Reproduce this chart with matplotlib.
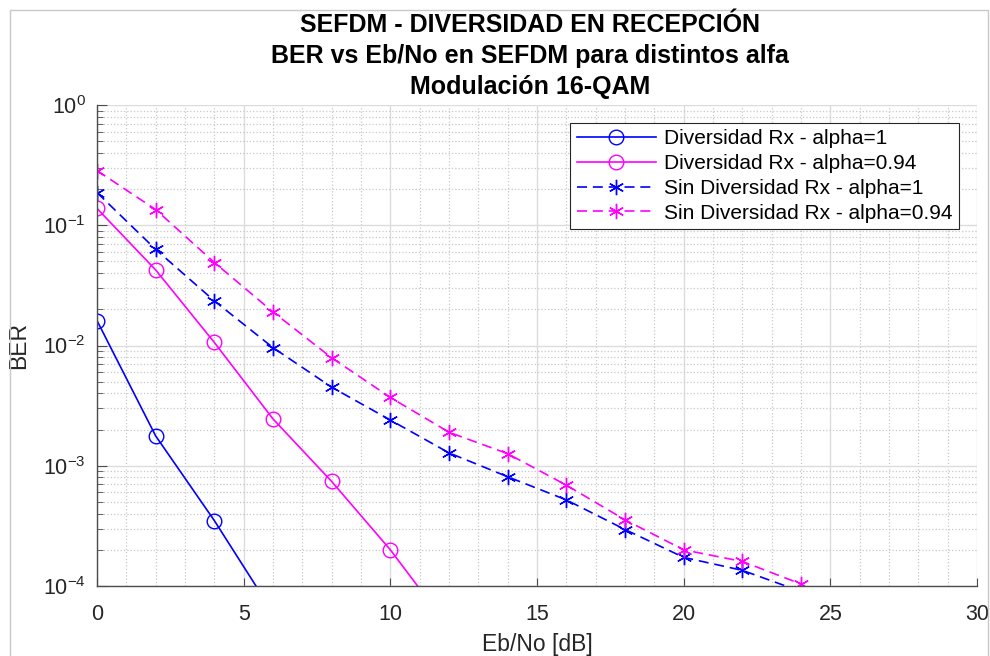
import numpy as np
import matplotlib
matplotlib.use('Agg')
import matplotlib.pyplot as plt
from matplotlib.patches import Rectangle
from matplotlib.ticker import MultipleLocator, LogLocator

plt.rcParams['font.family'] = ['Liberation Sans', 'DejaVu Sans']
plt.rcParams['mathtext.fontset'] = 'custom'
plt.rcParams['mathtext.rm'] = 'Liberation Sans'
plt.rcParams['mathtext.default'] = 'regular'

# Eb/No en dB
ebno_div = [0, 2, 4, 6]
ebno_div94 = [0, 2, 4, 6, 8, 10, 12]
ebno_sin = [0, 2, 4, 6, 8, 10, 12, 14, 16, 18, 20, 22, 24]

# BER
ber_div_1 = [0.0161, 0.00177, 3.5e-4, 6.0e-5]
ber_div_094 = [0.138, 0.0425, 0.0106, 0.00245, 7.4e-4, 2.0e-4, 4.5e-5]
ber_sin_1 = [0.187, 0.063, 0.0235, 0.0096, 0.0045, 0.0024, 0.00128,
             8.1e-4, 5.2e-4, 2.95e-4, 1.73e-4, 1.35e-4, 9.0e-5]
ber_sin_094 = [0.285, 0.135, 0.049, 0.019, 0.0079, 0.0037, 0.0019,
               0.00126, 6.9e-4, 3.55e-4, 2.0e-4, 1.6e-4, 1.04e-4]

labels = ['Diversidad Rx - alpha=1', 'Diversidad Rx - alpha=0.94',
          'Sin Diversidad Rx - alpha=1', 'Sin Diversidad Rx - alpha=0.94']

title_lines = ['SEFDM - DIVERSIDAD EN RECEPCIÓN',
               'BER vs Eb/No en SEFDM para distintos alfa',
               'Modulación 16-QAM']


W, H = 990, 656
fig = plt.figure(figsize=(W / 100, H / 100), dpi=100)
ax = fig.add_axes([97 / W, 70 / H, 880 / W, 481 / H])

# marco gris de la figura
fig.patches.append(Rectangle((10 / W, -0.01), 978 / W, 646 / H + 0.01,
                             transform=fig.transFigure, fill=False,
                             edgecolor='#c8c8c8', linewidth=1.0))

blue = '#0000ff'
mag = '#ff00ff'
star = (6, 2, 0)
lw = 1.2

ax.semilogy(ebno_div, ber_div_1, '-', color=blue, marker='o',
            markersize=10.5, markerfacecolor='none', linewidth=lw,
            label=labels[0])
ax.semilogy(ebno_div94, ber_div_094, '-', color=mag, marker='o',
            markersize=10.5, markerfacecolor='none', linewidth=lw,
            label=labels[1])
ax.semilogy(ebno_sin, ber_sin_1, '--', color=blue, marker=star,
            markersize=11, linewidth=lw, dashes=(6, 3.5), label=labels[2])
ax.semilogy(ebno_sin, ber_sin_094, '--', color=mag, marker=star,
            markersize=11, linewidth=lw, dashes=(6, 3.5), label=labels[3])

ax.set_xlim(0, 30)
ax.set_ylim(1e-4, 1)
ax.xaxis.set_major_locator(MultipleLocator(5))
ax.xaxis.set_minor_locator(MultipleLocator(1))
ax.yaxis.set_major_locator(LogLocator(base=10, numticks=10))
ax.yaxis.set_minor_locator(LogLocator(base=10, subs=np.arange(2, 10),
                                      numticks=20))

ax.grid(True, which='major', color='#dcdcdc', linestyle='-', linewidth=1.0)
ax.grid(True, which='minor', color='#c8c8c8', linestyle=':', linewidth=0.9)
ax.set_axisbelow(True)

for s in ['top', 'right']:
    ax.spines[s].set_visible(False)
for s in ['left', 'bottom']:
    ax.spines[s].set_color('#4d4d4d')
    ax.spines[s].set_linewidth(1.0)

ax.tick_params(which='both', direction='in', colors='#4d4d4d',
               labelcolor='#262626', labelsize=15.5)
ax.tick_params(axis='x', which='major', length=6, pad=13)
ax.tick_params(axis='x', which='minor', length=0)
ax.tick_params(axis='y', which='major', length=7, pad=8)
ax.tick_params(axis='y', which='minor', length=4)

ax.set_xlabel('Eb/No [dB]', fontsize=16.5, color='#262626', labelpad=6)
ax.set_ylabel('BER', fontsize=16.5, color='#262626', labelpad=9)

# titulo en tres lineas
baselines = [32, 63, 94]
for line, yb in zip(title_lines, baselines):
    fig.text(530 / W, 1 - yb / H, line, ha='center', va='baseline',
             fontsize=18, fontweight='bold', color='black')

leg = ax.legend(loc='upper right', bbox_to_anchor=(0.9795, 0.9626),
                borderaxespad=0, fontsize=15, handlelength=3.8,
                labelspacing=0.28, handletextpad=0.4, borderpad=0.3,
                fancybox=False, framealpha=1, edgecolor='#262626')
leg.get_frame().set_linewidth(0.8)

fig.savefig('out.png', dpi=100)
